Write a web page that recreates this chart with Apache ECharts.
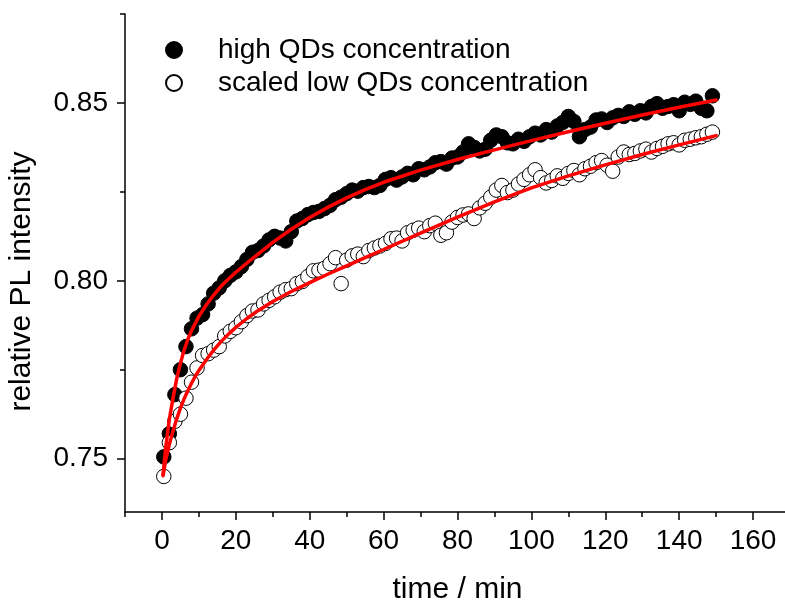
<!DOCTYPE html>
<html>
<head>
<meta charset="utf-8">
<script src="https://cdn.jsdelivr.net/npm/echarts@6/dist/echarts.min.js"></script>
<style>
  html, body { margin: 0; padding: 0; background: #fff; }
  #chart { width: 785px; height: 601px; }
</style>
</head>
<body>
<div id="chart"></div>
<script>
// ---- data ----
const times = [0.5, 2, 3.5, 5, 6.5, 8, 9.5, 11, 12.5, 14, 15.5, 17, 18.5, 20, 21.5, 23, 24.5, 26, 27.5, 29,
  30.5, 32, 33.5, 35, 36.5, 38, 39.5, 41, 42.5, 44, 45.5, 47, 48.5, 50, 51.5, 53, 54.5, 56, 57.5, 59,
  60.5, 62, 63.5, 65, 66.5, 68, 69.5, 71, 72.5, 74, 75.5, 77, 78.5, 80, 81.5, 83, 84.5, 86, 87.5, 89,
  90.5, 92, 93.5, 95, 96.5, 98, 99.5, 101, 102.5, 104, 105.5, 107, 108.5, 110, 111.5, 113, 114.5, 116, 117.5, 119,
  120.5, 122, 123.5, 125, 126.5, 128, 129.5, 131, 132.5, 134, 135.5, 137, 138.5, 140, 141.5, 143, 144.5, 146, 147.5, 149];

const highValues = [0.7505, 0.757, 0.768, 0.775, 0.7815, 0.7865, 0.7895, 0.7905, 0.7935, 0.7965,
  0.798, 0.800, 0.8015, 0.8025, 0.804, 0.806, 0.808, 0.8085, 0.8098, 0.8115,
  0.8125, 0.812, 0.8112, 0.8138, 0.8168, 0.8175, 0.8186, 0.8192, 0.8195, 0.8203,
  0.8212, 0.8228, 0.8235, 0.8245, 0.8255, 0.8252, 0.8262, 0.8265, 0.8262, 0.8268,
  0.8285, 0.829, 0.8283, 0.8292, 0.8302, 0.8298, 0.8315, 0.8312, 0.832, 0.8332,
  0.8335, 0.8328, 0.8345, 0.8348, 0.8362, 0.8385, 0.8375, 0.8365, 0.837, 0.8395,
  0.841, 0.8405, 0.8388, 0.8385, 0.8398, 0.8392, 0.8405, 0.8415, 0.841, 0.8425,
  0.8418, 0.8435, 0.8445, 0.8462, 0.8448, 0.8405, 0.8425, 0.8432, 0.8452, 0.8455,
  0.8445, 0.8458, 0.8465, 0.8462, 0.8475, 0.8468, 0.8478, 0.8472, 0.849, 0.8498,
  0.8485, 0.849, 0.8495, 0.8478, 0.8502, 0.8496, 0.8505, 0.8485, 0.8478, 0.852];

const lowValues = [0.745, 0.7545, 0.7605, 0.7625, 0.767, 0.7715, 0.7755, 0.779, 0.7795, 0.7805,
  0.7815, 0.7845, 0.7858, 0.7868, 0.7885, 0.7902, 0.7915, 0.7918, 0.7935, 0.7945,
  0.7955, 0.7968, 0.7975, 0.7978, 0.7992, 0.7998, 0.8012, 0.8028, 0.803, 0.8035,
  0.8048, 0.8065, 0.7992, 0.8058, 0.807, 0.8075, 0.8068, 0.8085, 0.8092, 0.8098,
  0.8105, 0.8118, 0.812, 0.8112, 0.8135, 0.8142, 0.8148, 0.8138, 0.8155, 0.8162,
  0.8128, 0.8135, 0.8165, 0.8178, 0.8185, 0.8188, 0.8175, 0.8205, 0.8218, 0.8235,
  0.8255, 0.8268, 0.8248, 0.8255, 0.8272, 0.8285, 0.8298, 0.8312, 0.829, 0.8275,
  0.8282, 0.8295, 0.8288, 0.8302, 0.831, 0.8298, 0.8315, 0.8322, 0.8332, 0.8338,
  0.8325, 0.8308, 0.8348, 0.8362, 0.8355, 0.8358, 0.8365, 0.837, 0.8362, 0.8372,
  0.8378, 0.8385, 0.8388, 0.8382, 0.8395, 0.8398, 0.8402, 0.8405, 0.8412, 0.8418];

const fitTimes = [0.3, 1, 2, 3, 4, 5, 6, 7, 8, 9, 10, 12, 14, 16, 18, 20, 23, 26, 30, 35, 40, 45, 50, 55, 60, 70, 80, 90, 100, 110, 120, 130, 140, 150];
const highFit = [0.7455, 0.753, 0.761, 0.767, 0.7725, 0.7768, 0.7805, 0.7835, 0.786, 0.788, 0.790, 0.7932, 0.796, 0.7985, 0.8005, 0.8024, 0.805, 0.8075,
  0.8108, 0.8145, 0.8178, 0.8207, 0.8233, 0.8256, 0.8277, 0.8311, 0.8341, 0.8368, 0.8394, 0.8419, 0.8443, 0.8466, 0.8488, 0.8508];
const lowFit = [0.7452, 0.7495, 0.754, 0.7578, 0.7612, 0.7642, 0.7668, 0.7691, 0.7712, 0.7731, 0.7748, 0.7778, 0.7805, 0.7829, 0.785, 0.7869, 0.7894, 0.7916,
  0.7942, 0.797, 0.7995, 0.8019, 0.8042, 0.8065, 0.8088, 0.8134, 0.8179, 0.8222, 0.8261, 0.8295, 0.8326, 0.8355, 0.8382, 0.8408];

const xMajorTicks = [0, 20, 40, 60, 80, 100, 120, 140, 160];
const xMinorTicks = [-10, 10, 30, 50, 70, 90, 110, 130, 150, 170];
const yMajorTicks = [0.75, 0.80, 0.85];
const yMinorTicks = [0.775, 0.825, 0.875];

const seriesNames = ['high QDs concentration', 'scaled low QDs concentration'];

// ---- chart ----
const FONT = '"Liberation Sans", Arial, sans-serif';
const chart = echarts.init(document.getElementById('chart'), null, { renderer: 'canvas' });

const pair = (xs, ys) => xs.map((x, i) => [x, ys[i]]);

const axisLineStyle = { show: true, onZero: false, lineStyle: { color: '#000', width: 1.5 } };

const option = {
  animation: false,
  backgroundColor: '#fff',
  grid: { left: 125, top: 14, width: 665, height: 498, containLabel: false, outerBoundsMode: 'none' },
  legend: {
    orient: 'vertical',
    left: 160,
    top: 30,
    itemWidth: 16,
    itemHeight: 16,
    itemGap: 3,
    data: [
      { name: seriesNames[0], icon: 'circle' },
      { name: seriesNames[1], icon: 'circle' }
    ],
    textStyle: { fontFamily: FONT, fontSize: 28, color: '#000', lineHeight: 30, padding: [0, 0, 0, 31] }
  },
  xAxis: [
    {
      type: 'value', min: -10, max: 170, position: 'bottom',
      name: 'time / min', nameLocation: 'middle', nameGap: 63,
      nameTextStyle: { fontFamily: FONT, fontSize: 30, color: '#000' },
      axisLine: axisLineStyle,
      axisTick: { show: true, inside: false, length: 8, lineStyle: { color: '#000', width: 1.5 }, customValues: xMajorTicks },
      axisLabel: { show: true, margin: 15, fontFamily: FONT, fontSize: 28, color: '#000', customValues: xMajorTicks },
      splitLine: { show: false }
    },
    {
      type: 'value', min: -10, max: 170, position: 'bottom',
      axisLine: { show: false, onZero: false },
      axisTick: { show: true, inside: false, length: 5, lineStyle: { color: '#000', width: 1.5 }, customValues: xMinorTicks },
      axisLabel: { show: false },
      splitLine: { show: false }
    }
  ],
  yAxis: [
    {
      type: 'value', min: 0.735, max: 0.875, position: 'left',
      name: 'relative PL intensity', nameLocation: 'middle', nameGap: 88,
      nameTextStyle: { fontFamily: FONT, fontSize: 30, color: '#000', padding: [0, 37, 0, 0] },
      axisLine: axisLineStyle,
      axisTick: { show: true, inside: false, length: 8, lineStyle: { color: '#000', width: 1.5 }, customValues: yMajorTicks },
      axisLabel: { show: true, margin: 17, fontFamily: FONT, fontSize: 28, color: '#000', customValues: yMajorTicks,
        formatter: v => Number(v).toFixed(2) },
      splitLine: { show: false }
    },
    {
      type: 'value', min: 0.735, max: 0.875, position: 'left',
      axisLine: { show: false, onZero: false },
      axisTick: { show: true, inside: false, length: 5, lineStyle: { color: '#000', width: 1.5 }, customValues: yMinorTicks },
      axisLabel: { show: false },
      splitLine: { show: false }
    }
  ],
  series: [
    {
      name: seriesNames[0], type: 'scatter', xAxisIndex: 0, yAxisIndex: 0,
      symbol: 'circle', symbolSize: 14.5, z: 2,
      itemStyle: { color: '#000', borderColor: '#000', borderWidth: 1, opacity: 1 },
      data: pair(times, highValues)
    },
    {
      name: seriesNames[1], type: 'scatter', xAxisIndex: 0, yAxisIndex: 0,
      symbol: 'circle', symbolSize: 14.5, z: 3,
      itemStyle: { color: '#fff', borderColor: '#000', borderWidth: 1, opacity: 1 },
      data: pair(times, lowValues)
    },
    {
      name: 'high fit', type: 'line', xAxisIndex: 0, yAxisIndex: 0, z: 5,
      showSymbol: false, symbol: 'none', smooth: false,
      lineStyle: { color: '#ff0000', width: 3.5, join: 'round', cap: 'round' },
      data: pair(fitTimes, highFit)
    },
    {
      name: 'low fit', type: 'line', xAxisIndex: 0, yAxisIndex: 0, z: 5,
      showSymbol: false, symbol: 'none', smooth: false,
      lineStyle: { color: '#ff0000', width: 3.5, join: 'round', cap: 'round' },
      data: pair(fitTimes, lowFit)
    }
  ]
};

chart.setOption(option);
</script>
</body>
</html>
